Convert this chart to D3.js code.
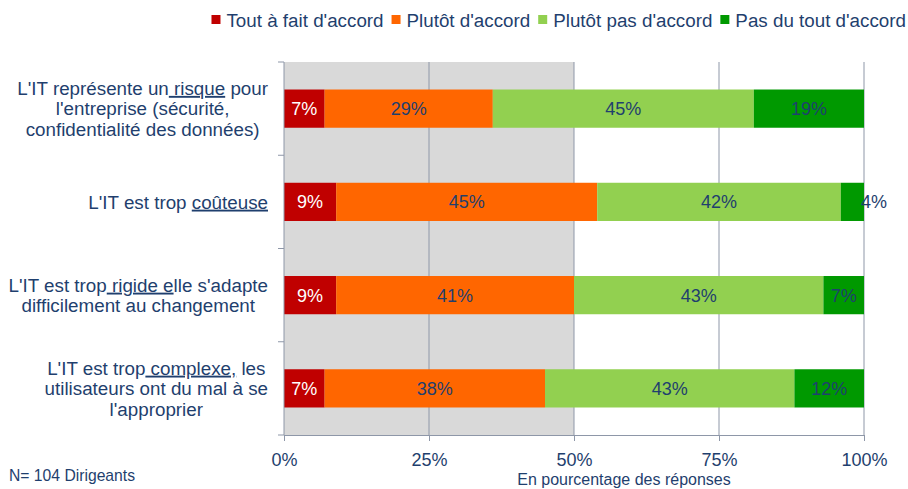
<!DOCTYPE html>
<html>
<head>
<meta charset="utf-8">
<script src="https://cdn.jsdelivr.net/npm/d3@7"></script>
<style>
  body { margin: 0; background: #fff; }
  text { font-family: "Liberation Sans", Arial, sans-serif; }
</style>
</head>
<body>
<div id="chart"></div>
<script>
// ----------------
// data
// ----------------
const series = ["Tout à fait d'accord", "Plutôt d'accord", "Plutôt pas d'accord", "Pas du tout d'accord"];
const colors = ["#C00000", "#FF6600", "#92D050", "#009900"];

// each label line, with [text, underlined?] parts
const categories = [
    [[["L'IT représente un", false], [" risque", true], [" pour", false]],
     [["l'entreprise (sécurité,", false]],
     [["confidentialité des données)", false]]],
    [[["L'IT est trop ", false], ["coûteuse", true]]],
    [[["L'IT est trop", false], [" rigide e", true], ["lle s'adapte", false]],
     [["difficilement au changement", false]]],
    [[["L'IT est trop", false], [" complexe,", true], [" les", false]],
     [["utilisateurs ont du mal à se", false]],
     [["l'approprier", false]]]
];
const toutAFait = [7, 9, 9, 7];
const plutot = [29, 45, 41, 38];
const plutotPas = [45, 42, 43, 43];
const pasDuTout = [19, 4, 7, 12];

const xTicks = [0, 25, 50, 75, 100];

// ----------------
// layout
// ----------------
const margin = {top: 62, right: 44, bottom: 54, left: 284},
    W = 908, H = 489,
    width = W - margin.left - margin.right,
    height = H - margin.top - margin.bottom;
const textColor = "#1F3F6E";

const svgRoot = d3.select("#chart").append("svg")
    .attr("width", W).attr("height", H);
const svg = svgRoot.append("g")
    .attr("transform", `translate(${margin.left},${margin.top})`);

const rows = categories.map((c, i) => ({
    idx: i,
    vals: [toutAFait[i], plutot[i], plutotPas[i], pasDuTout[i]]
}));

const x = d3.scaleLinear().domain([0, 100]).range([0, width]);
const y = d3.scaleBand().domain(rows.map(d => d.idx)).range([0, height]).paddingInner(0.59).paddingOuter(0.295);
const yOuter = d3.scaleBand().domain(rows.map(d => d.idx)).range([0, height]);

// gray zone 0-50%
svg.append("rect")
    .attr("x", x(0)).attr("y", 0)
    .attr("width", x(50) - x(0)).attr("height", height)
    .attr("fill", "#D9D9D9");

// vertical grid lines
svg.append("g").selectAll("line")
    .data(xTicks.slice(1))
    .join("line")
    .attr("x1", d => x(d)).attr("x2", d => x(d))
    .attr("y1", 0).attr("y2", height)
    .attr("stroke", "#8E97A8").attr("stroke-width", 1);

// stacked bars
const stacked = d3.stack().keys([0, 1, 2, 3]).value((d, k) => d.vals[k])(rows);

const layers = svg.append("g").selectAll("g")
    .data(stacked)
    .join("g")
    .attr("fill", d => colors[d.key]);

layers.selectAll("rect")
    .data(d => d)
    .join("rect")
    .attr("x", d => x(d[0]))
    .attr("y", d => y(d.data.idx))
    .attr("width", d => x(d[1]) - x(d[0]))
    .attr("height", y.bandwidth());

// value labels
layers.each(function(layer) {
    d3.select(this).selectAll("text")
        .data(layer)
        .join("text")
        .attr("x", d => (d[1] - d[0]) < 5 ? x(d[1]) - 3 : x((d[0] + d[1]) / 2))
        .attr("y", d => y(d.data.idx) + y.bandwidth() / 2)
        .attr("dy", "0.36em")
        .attr("text-anchor", d => (d[1] - d[0]) < 5 ? "start" : "middle")
        .attr("font-size", 18)
        .attr("fill", layer.key === 0 ? "#fff" : textColor)
        .text(d => (d[1] - d[0]) + "%");
});

// left axis
svg.append("line")
    .attr("x1", 0).attr("x2", 0).attr("y1", 0).attr("y2", height)
    .attr("stroke", "#8E97A8");
svg.append("g").selectAll("line")
    .data(d3.range(rows.length + 1))
    .join("line")
    .attr("x1", -6).attr("x2", 0)
    .attr("y1", d => d * yOuter.step()).attr("y2", d => d * yOuter.step())
    .attr("stroke", "#8E97A8");

// bottom axis
const xAxis = svg.append("g")
    .attr("transform", `translate(0,${height})`)
    .call(d3.axisBottom(x).tickValues(xTicks).tickFormat(d => d + "%").tickSize(6).tickPadding(12));
xAxis.select(".domain").attr("stroke", "#8E97A8");
xAxis.selectAll(".tick line").attr("stroke", "#8E97A8");
xAxis.selectAll("text")
    .attr("font-family", "Liberation Sans, Arial, sans-serif")
    .attr("font-size", 18).attr("fill", textColor);

// axis title, sits a little right of the 50% mark
svg.append("text")
    .attr("x", x(50) + 50).attr("y", height + 50)
    .attr("text-anchor", "middle")
    .attr("font-size", 16).attr("fill", textColor)
    .text("En pourcentage des réponses");

svgRoot.append("text")
    .attr("x", 9).attr("y", 481)
    .attr("font-size", 15.7).attr("fill", textColor)
    .text("N= 104 Dirigeants");

// category labels (centered block, right aligned to the axis)
const labelRight = margin.left - 16;
const lineH = 20.5;
categories.forEach((lines, i) => {
    const cy = margin.top + yOuter(i) + yOuter.bandwidth() / 2;
    const g = svgRoot.append("g");
    const texts = lines.map((parts, j) => {
        const t = g.append("text")
            .attr("y", cy + (j - (lines.length - 1) / 2) * lineH)
            .attr("dy", "0.36em")
            .attr("font-size", 18.8)
            .attr("fill", textColor)
            .attr("text-anchor", "middle");
        parts.forEach(p => {
            t.append("tspan")
                .style("text-decoration", p[1] ? "underline" : "none")
                .style("white-space", "pre")
                .text(p[0]);
        });
        t.style("white-space", "pre");
        return t;
    });
    const maxW = d3.max(texts, t => t.node().getComputedTextLength());
    texts.forEach(t => t.attr("x", labelRight - maxW / 2));
});

// legend, right aligned
const legend = svgRoot.append("g");
let lx = 906;
for (let k = series.length - 1; k >= 0; k--) {
    const t = legend.append("text")
        .attr("y", 20).attr("dy", "0.36em")
        .attr("font-size", 18.8).attr("fill", textColor)
        .text(series[k]);
    const w = t.node().getComputedTextLength();
    lx -= w;
    t.attr("x", lx);
    legend.append("rect")
        .attr("x", lx - 15).attr("y", 15)
        .attr("width", 9).attr("height", 9)
        .attr("fill", colors[k]);
    lx -= 23;
}
</script>
</body>
</html>
